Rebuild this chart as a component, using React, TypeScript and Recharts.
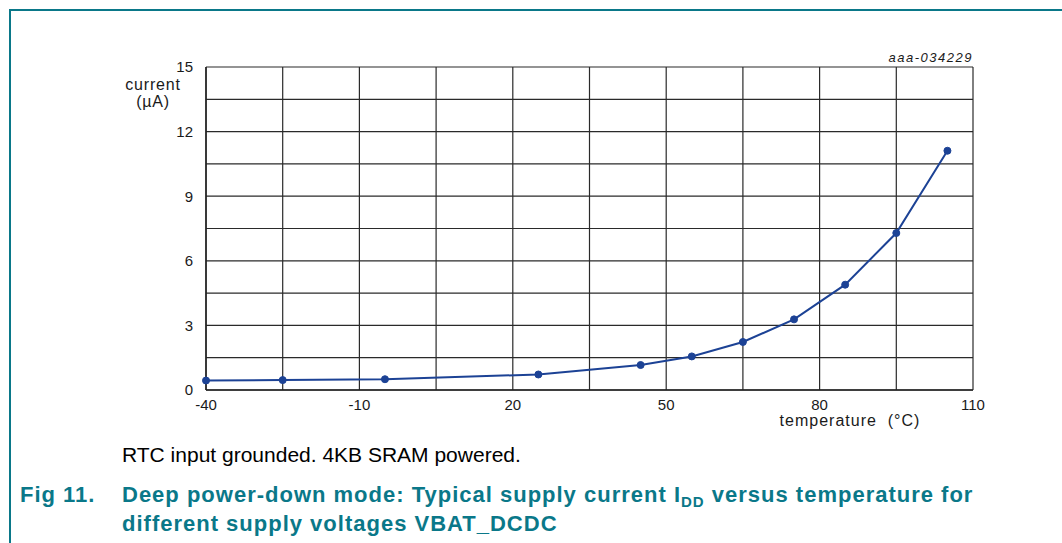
import { CartesianGrid, Line, LineChart, XAxis, YAxis } from 'recharts';

// temperature (°C) and typical IDD (µA)
const temperatures = [-40, -25, -5, 25, 45, 55, 65, 75, 85, 95, 105];
const currents = [0.44, 0.46, 0.5, 0.72, 1.16, 1.56, 2.23, 3.28, 4.89, 7.29, 11.11];

const xTicks = [-40, -25, -10, 5, 20, 35, 50, 65, 80, 95, 110];
const xLabels = [-40, -10, 20, 50, 80, 110];
const yTicks = [0, 1.5, 3, 4.5, 6, 7.5, 9, 10.5, 12, 13.5, 15];
const yLabels = [0, 3, 6, 9, 12, 15];

const data = temperatures.map((t, i) => ({ t, i: currents[i] }));

const TEAL = '#0a7889';
const LINE = '#1c4295';
const FONT = '"Liberation Sans", Arial, Helvetica, sans-serif';

const tickStyle = { fill: '#1a1a1a', fontSize: 15, fontFamily: FONT };

export default function App() {
    return (
        <div
            style={{
                position: 'absolute',
                left: 0,
                top: 0,
                width: 1062,
                height: 543,
                overflow: 'hidden',
                background: '#fff',
                fontFamily: FONT,
            }}
        >
            {/* frame lines */}
            <div style={{ position: 'absolute', left: 9, top: 9, width: 1053, height: 2, background: TEAL }} />
            <div style={{ position: 'absolute', left: 9, top: 9, width: 2, height: 534, background: TEAL }} />

            <div style={{ position: 'absolute', left: 0, top: 0 }}>
                <LineChart
                    width={1062}
                    height={440}
                    data={data}
                    margin={{ top: 67, right: 89, left: 146, bottom: 10 }}
                >
                    <CartesianGrid stroke="#2a2a2a" strokeWidth={1.2} />
                    <XAxis
                        dataKey="t"
                        type="number"
                        domain={[-40, 110]}
                        ticks={xTicks}
                        interval={0}
                        tickFormatter={(v: number) => (xLabels.includes(v) ? String(v) : '')}
                        tickLine={false}
                        tickMargin={3}
                        axisLine={{ stroke: '#222', strokeWidth: 1.5 }}
                        tick={tickStyle}
                        height={40}
                    />
                    <YAxis
                        type="number"
                        domain={[0, 15]}
                        ticks={yTicks}
                        interval={0}
                        tickFormatter={(v: number) => (yLabels.includes(v) ? String(v) : '')}
                        tickLine={false}
                        tickMargin={7}
                        axisLine={{ stroke: '#222', strokeWidth: 1.5 }}
                        tick={tickStyle}
                        width={60}
                    />
                    <Line
                        dataKey="i"
                        type="linear"
                        stroke={LINE}
                        strokeWidth={2}
                        dot={{ r: 3.5, fill: LINE, stroke: LINE, strokeWidth: 1 }}
                        isAnimationActive={false}
                    />
                </LineChart>
            </div>

            {/* y-axis label */}
            <div style={{ position: 'absolute', left: 108, top: 76, width: 90, textAlign: 'center', fontSize: 16, lineHeight: '17px', letterSpacing: 0.8, color: '#1a1a1a' }}>
                current
                <br />
                (µA)
            </div>

            {/* x-axis label */}
            <div style={{ position: 'absolute', left: 750, top: 414, width: 200, textAlign: 'center', fontSize: 16, lineHeight: '14px', letterSpacing: 1, color: '#1a1a1a', whiteSpace: 'pre' }}>
                {'temperature  (°C)'}
            </div>

            {/* figure id */}
            <div style={{ position: 'absolute', right: 89, top: 50, fontSize: 13, fontStyle: 'italic', letterSpacing: 1.5, color: '#1a1a1a' }}>
                aaa-034229
            </div>

            {/* note */}
            <div style={{ position: 'absolute', left: 122, top: 444, fontSize: 21, lineHeight: '21px', color: '#000' }}>
                RTC input grounded. 4KB SRAM powered.
            </div>

            {/* caption */}
            <div style={{ position: 'absolute', left: 20, top: 484, fontSize: 22, lineHeight: '22px', letterSpacing: 1, fontWeight: 700, color: TEAL }}>
                Fig 11.
            </div>
            <div style={{ position: 'absolute', left: 122, top: 484, fontSize: 22, letterSpacing: 1, fontWeight: 700, color: TEAL, whiteSpace: 'nowrap' }}>
                <div style={{ height: 22, lineHeight: '22px' }}>
                    Deep power-down mode: Typical supply current I
                    <span style={{ fontSize: 15, position: 'relative', top: 5 }}>DD</span> versus temperature for
                </div>
                <div style={{ marginTop: 7, lineHeight: '22px' }}>different supply voltages VBAT_DCDC</div>
            </div>
        </div>
    );
}
